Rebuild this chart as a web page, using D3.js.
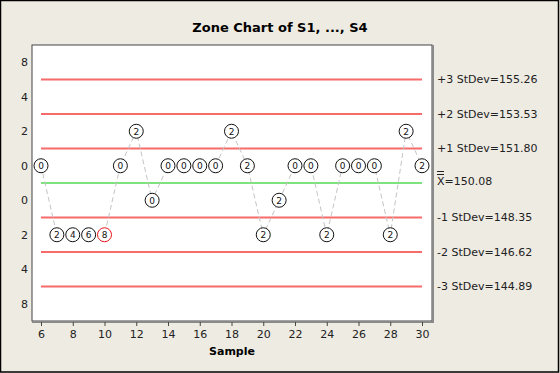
<!DOCTYPE html>
<html>
<head>
<meta charset="utf-8">
<script src="https://cdn.jsdelivr.net/npm/d3@7"></script>
<style>
  body { margin: 0; background: #eeebe2; }
  svg { display: block; font-family: "DejaVu Sans", sans-serif; }
</style>
</head>
<body>
<svg id="chart"></svg>
<script>
// zone chart data
const samples = [6, 7, 8, 9, 10, 11, 12, 13, 14, 15, 16, 17, 18, 19, 20, 21, 22, 23, 24, 25, 26, 27, 28, 29, 30];
// zone of each point: +1 = centre..+1 sd, +2 = +1..+2 sd, -1 = centre..-1 sd, -2 = -1..-2 sd
const zones = [1, -2, -2, -2, -2, 1, 2, -1, 1, 1, 1, 1, 2, 1, -2, -1, 1, 1, -2, 1, 1, 1, -2, 2, 1];
const scores = [0, 2, 4, 6, 8, 0, 2, 0, 0, 0, 0, 0, 2, 2, 2, 2, 0, 0, 2, 0, 0, 0, 2, 2, 2];
const flagged = [10];

const limitSd = [3, 2, 1, 0, -1, -2, -3];
const limitLabels = ["+3 StDev=155.26", "+2 StDev=153.53", "+1 StDev=151.80", "=150.08",
  "-1 StDev=148.35", "-2 StDev=146.62", "-3 StDev=144.89"];

const yTickPos = [3.5, 2.5, 1.5, 0.5, -0.5, -1.5, -2.5, -3.5];
const yTickLabels = ["8", "4", "2", "0", "0", "2", "4", "8"];
const xTicks = [6, 8, 10, 12, 14, 16, 18, 20, 22, 24, 26, 28, 30];

const width = 560, height = 373;
const plot = { left: 32, top: 45, right: 432, bottom: 321 };

const svg = d3.select("#chart").attr("width", width).attr("height", height);

svg.append("rect")
  .attr("x", 0.5).attr("y", 0.5)
  .attr("width", width - 2).attr("height", height - 1.5)
  .attr("fill", "#eeebe2").attr("stroke", "#000").attr("stroke-width", 1.5);

const x = d3.scaleLinear().domain([6, 30]).range([41, 422]);
const y = d3.scaleLinear().domain([-4, 4]).range([plot.bottom, plot.top]);
const zoneY = z => y(z > 0 ? z - 0.5 : z + 0.5);

// plot frame
svg.append("rect")
  .attr("x", plot.left).attr("y", plot.top)
  .attr("width", plot.right - plot.left).attr("height", plot.bottom - plot.top)
  .attr("fill", "#fff").attr("stroke", "#444").attr("stroke-width", 1);
svg.append("path")
  .attr("d", `M${plot.left},${plot.bottom + 1}H${plot.right + 1}V${plot.top}`)
  .attr("fill", "none").attr("stroke", "#8a8a8a").attr("stroke-width", 2);

// title
svg.append("text")
  .attr("x", 280).attr("y", 32)
  .attr("text-anchor", "middle")
  .style("font-weight", "bold").style("font-size", "13px")
  .text("Zone Chart of S1, ..., S4");

// Y axis (zone scores)
const yAxis = svg.append("g")
  .attr("transform", `translate(${plot.left},0)`)
  .call(d3.axisLeft(y).tickValues(yTickPos).tickSize(0).tickPadding(4)
    .tickFormat((d, i) => yTickLabels[i]));
yAxis.select(".domain").remove();
yAxis.selectAll("text").style("font-size", "11px").style("font-family", "DejaVu Sans").attr("fill", "#222");

// X axis
const xAxis = svg.append("g")
  .attr("transform", `translate(0,${plot.bottom + 1})`)
  .call(d3.axisBottom(x).tickValues(xTicks).tickSize(4).tickPadding(4));
xAxis.select(".domain").remove();
xAxis.selectAll("line").attr("stroke", "#444");
xAxis.selectAll("text").style("font-size", "11px").style("font-family", "DejaVu Sans").attr("fill", "#222");

svg.append("text")
  .attr("x", (plot.left + plot.right) / 2).attr("y", 355)
  .attr("text-anchor", "middle")
  .style("font-weight", "bold").style("font-size", "11px")
  .text("Sample");

// zone lines
svg.append("g").selectAll("line")
  .data(limitSd)
  .join("line")
  .attr("x1", x(samples[0])).attr("x2", x(samples[samples.length - 1]))
  .attr("y1", d => y(d)).attr("y2", d => y(d))
  .attr("stroke", d => d === 0 ? "#7ee27e" : "#f76b6b")
  .attr("stroke-width", 2);

// right-hand labels
svg.append("g").selectAll("text")
  .data(limitSd)
  .join("text")
  .attr("x", plot.right + 5)
  .attr("y", d => d === 0 ? y(d) + 1.5 : y(d))
  .attr("dy", d => d === 0 ? "0" : "0.35em")
  .style("font-size", "11px")
  .attr("fill", "#222")
  .text((d, i) => d === 0 ? "X" + limitLabels[i] : limitLabels[i]);

// double bar over X on centre label
const cx = plot.right + 5, cy = y(0);
[-11.5, -8.5].forEach(off => {
  svg.append("line")
    .attr("x1", cx).attr("x2", cx + 7)
    .attr("y1", Math.round(cy) + off).attr("y2", Math.round(cy) + off)
    .attr("stroke", "#222").attr("stroke-width", 1);
});

// connecting line
const pts = samples.map((s, i) => ({ s, z: zones[i], score: scores[i] }));
svg.append("path")
  .datum(pts)
  .attr("d", d3.line().x(d => x(d.s)).y(d => zoneY(d.z)))
  .attr("fill", "none")
  .attr("stroke", "#c4c4c4")
  .attr("stroke-width", 1)
  .attr("stroke-dasharray", "5,3");

// score circles
const marks = svg.append("g").selectAll("g")
  .data(pts)
  .join("g")
  .attr("transform", d => `translate(${x(d.s)},${zoneY(d.z)})`);

marks.append("circle")
  .attr("r", 7)
  .attr("fill", "#fff")
  .attr("stroke", d => flagged.includes(d.s) ? "#e8141a" : "#111")
  .attr("stroke-width", 1);

marks.append("text")
  .attr("text-anchor", "middle")
  .attr("dy", "0.36em")
  .style("font-size", "9px")
  .attr("fill", "#111")
  .text(d => d.score);
</script>
</body>
</html>
